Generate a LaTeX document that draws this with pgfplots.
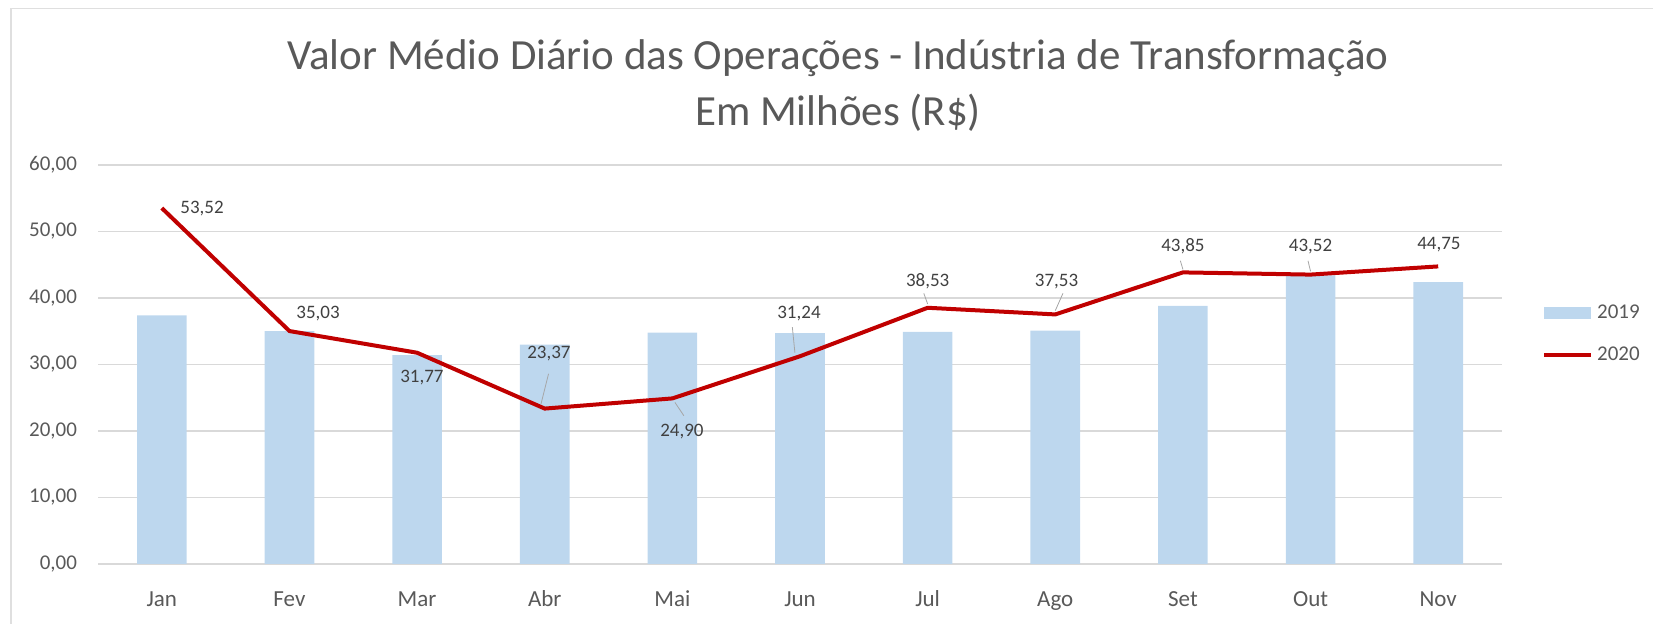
\documentclass[border=0pt]{standalone}
\usepackage{fontspec}
\setmainfont{Carlito}
\usepackage{pgfplots}
\usepackage{pgfplotstable}
\pgfplotsset{compat=1.18}
\definecolor{barblue}{HTML}{BDD7EE}
\definecolor{linered}{HTML}{C00000}
\definecolor{txtgray}{HTML}{595959}
\definecolor{lblgray}{HTML}{404040}
\definecolor{gridgray}{HTML}{D9D9D9}

\pgfplotstableread{
x v2019 v2020
0 37.4 53.52
1 35.0 35.03
2 31.4 31.77
3 33.0 23.37
4 34.8 24.90
5 34.7 31.24
6 34.9 38.53
7 35.1 37.53
8 38.8 43.85
9 43.4 43.52
10 42.4 44.75
}\data

\begin{document}
\begin{tikzpicture}
\path[use as bounding box] (0,0) rectangle (826.5pt,312pt);
\draw[gray!25, line width=0.8pt] (5.5pt,-20pt) rectangle (900pt,307.75pt);
\begin{axis}[
  at={(49pt,30pt)}, anchor=south west,
  scale only axis, width=702pt, height=199.5pt,
  xmin=-0.5, xmax=10.5, ymin=0, ymax=60,
  ytick={0,10,...,60},
  xtick={0,...,10},
  xticklabels={Jan,Fev,Mar,Abr,Mai,Jun,Jul,Ago,Set,Out,Nov},
  ymajorgrids, grid style={gridgray, line width=0.8pt},
  axis line style={draw=none},
  major tick length=0pt,
  /pgf/number format/.cd, fixed, fixed zerofill, precision=2, use comma, 1000 sep={}, assume math mode=true,
  /pgfplots/.cd,
  yticklabel style={font=\fontsize{10.5}{12}\selectfont, color=txtgray, xshift=-7pt},
  xticklabel style={font=\fontsize{11.5}{13}\selectfont, color=txtgray, yshift=-9pt, text height=8.5pt, text depth=2.5pt},
  legend style={at={(1.024,0.576)}, anchor=west, draw=none, fill=none,
    font=\fontsize{10.5}{12}\selectfont\color{txtgray}, row sep=9pt},
  legend cell align=left,
]
\addplot[ybar, bar width=24.8pt, fill=barblue, draw=none,
  legend image code/.code={\fill[barblue] (0pt,-3pt) rectangle (23.5pt,3pt);}]
  table[x=x,y=v2019]{\data};
\addlegendentry{2019}
\addplot[linered, line width=2pt, mark=none,
  legend image code/.code={\draw[linered,line width=2pt] (0pt,0pt) -- (23.5pt,0pt);}]
  table[x=x,y=v2020]{\data};
\addlegendentry{2020}

% leader lines
\draw[gray!70, line width=0.4pt] (axis cs:3.03,28.6) -- (axis cs:2.97,24.0);
\draw[gray!70, line width=0.4pt] (axis cs:4.02,24.3) -- (axis cs:4.09,22.3);
\draw[gray!70, line width=0.4pt] (axis cs:4.96,31.8) -- (axis cs:4.94,35.6);
\draw[gray!70, line width=0.4pt] (axis cs:6.0,39.1) -- (axis cs:5.97,40.7);
\draw[gray!70, line width=0.4pt] (axis cs:7.0,38.1) -- (axis cs:7.06,40.7);
\draw[gray!70, line width=0.4pt] (axis cs:8.0,44.3) -- (axis cs:7.98,45.6);
\draw[gray!70, line width=0.4pt] (axis cs:9.0,44.0) -- (axis cs:8.98,45.6);

% data labels
\begin{scope}[every node/.style={font=\fontsize{9.5}{11}\selectfont, text=lblgray, inner sep=1pt}]
\node at (axis cs:0.315,53.4) {53,52};
\node at (axis cs:1.224,37.6) {35,03};
\node at (axis cs:2.038,28.1) {31,77};
\node at (axis cs:3.033,31.7) {23,37};
\node at (axis cs:4.075,19.85) {24,90};
\node at (axis cs:4.992,37.6) {31,24};
\node at (axis cs:6.0,42.5) {38,53};
\node at (axis cs:7.01,42.5) {37,53};
\node at (axis cs:8.0,47.8) {43,85};
\node at (axis cs:9.0,47.8) {43,52};
\node at (axis cs:10.006,48.1) {44,75};
\end{scope}
\end{axis}
\node[font=\fontsize{21.5}{26}\selectfont, text=txtgray] at (419pt,283pt) {Valor Médio Diário das Operações - Indústria de Transformação};
\node[font=\fontsize{21.5}{26}\selectfont, text=txtgray] at (419pt,255.5pt) {Em Milhões (R\$)};
\end{tikzpicture}
\end{document}
